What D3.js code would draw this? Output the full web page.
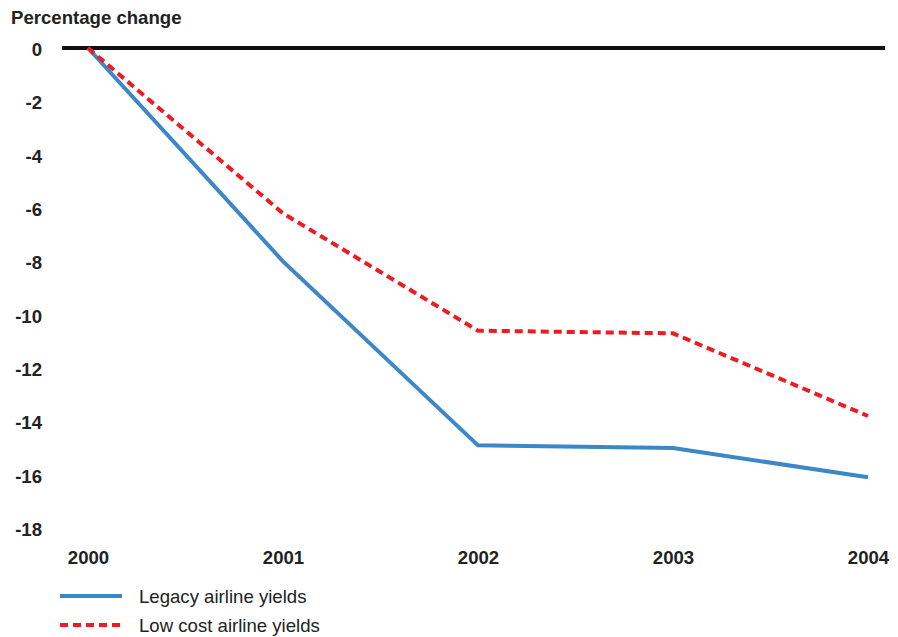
<!DOCTYPE html>
<html><head><meta charset="utf-8">
<script src="https://cdn.jsdelivr.net/npm/d3@7"></script>
<style>body{margin:0;background:#fff}text{font-family:"Liberation Sans",Arial,sans-serif}</style>
</head><body><svg id="c" width="898" height="637"></svg>
<script>
const years = ["2000","2001","2002","2003","2004"];
const legacy = [0, -8.0, -14.9, -15.0, -16.1];
const lowCost = [0, -6.2, -10.6, -10.7, -13.8];
const yTicks = [0,-2,-4,-6,-8,-10,-12,-14,-16,-18];
const seriesNames = ["Legacy airline yields","Low cost airline yields"];

const FS = 18.6;
const svg = d3.select("#c");
const x = d3.scalePoint().domain(years).range([88, 868]);
const y = d3.scaleLinear().domain([0,-18]).range([48, 528]);

svg.append("text").attr("x",11).attr("y",24).attr("font-size",FS).attr("font-weight","bold").attr("fill","#222").text("Percentage change");

const yAxis = d3.axisLeft(y).tickValues(yTicks).tickFormat(d=>String(d)).tickSize(0).tickPadding(0);
const gy = svg.append("g").attr("transform","translate(42,0)").call(yAxis);
gy.select(".domain").remove();
gy.selectAll("text").attr("font-size",FS).attr("font-weight","bold").attr("fill","#222").attr("dy","0.4em").attr("font-family","Liberation Sans, Arial, sans-serif");

const xAxis = d3.axisBottom(x).tickSize(0).tickPadding(0);
const gx = svg.append("g").attr("transform","translate(0,551)").call(xAxis);
gx.select(".domain").remove();
gx.selectAll("text").attr("font-size",FS).attr("font-weight","bold").attr("fill","#222").attr("font-family","Liberation Sans, Arial, sans-serif");

svg.append("line").attr("x1",62).attr("x2",885).attr("y1",y(0)).attr("y2",y(0)).attr("stroke","#111").attr("stroke-width",4);

const line = d3.line().x((d,i)=>x(years[i])).y(d=>y(d));
svg.append("path").datum(legacy).attr("d",line).attr("fill","none").attr("stroke","#3b87c8").attr("stroke-width",4);
svg.append("path").datum(lowCost).attr("d",line).attr("fill","none").attr("stroke","#ed1c24").attr("stroke-width",4).attr("stroke-dasharray","8,5");

const leg = [{c:"#3b87c8",d:null,y:596},{c:"#ed1c24",d:"8,5",y:625}];
leg.forEach((l,i)=>{
  svg.append("line").attr("x1",60).attr("x2",122).attr("y1",l.y).attr("y2",l.y).attr("stroke",l.c).attr("stroke-width",4).attr("stroke-dasharray",l.d);
  svg.append("text").attr("x",139).attr("y",l.y+7).attr("font-size",FS).attr("fill","#222").text(seriesNames[i]);
});
</script></body></html>
